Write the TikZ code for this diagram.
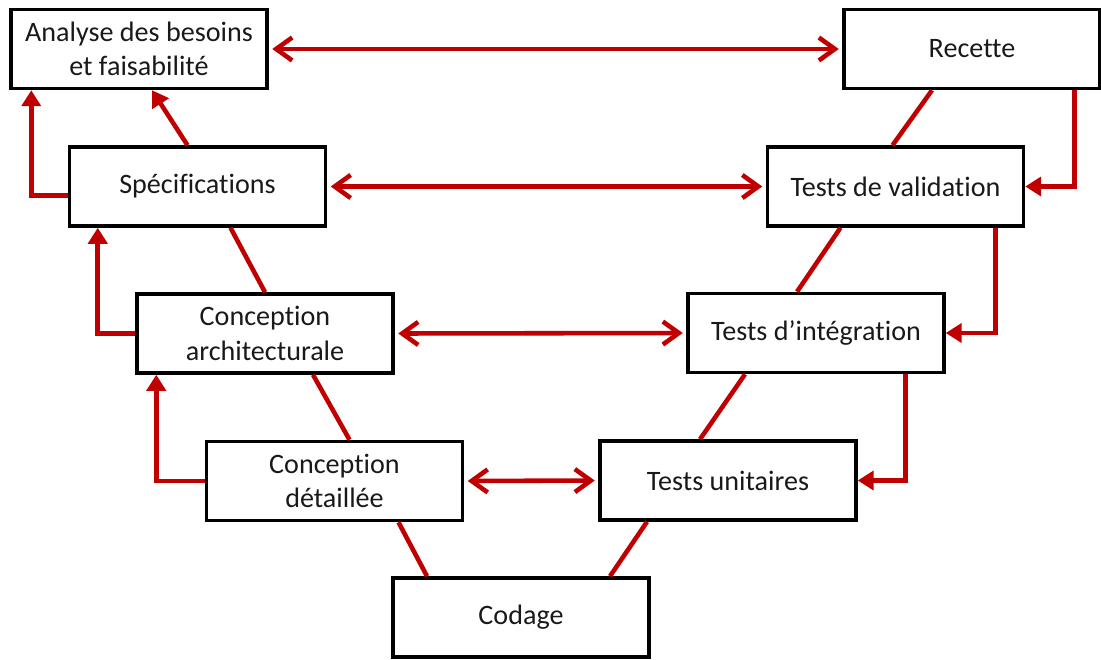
\documentclass[tikz,border=0pt]{standalone}
\usepackage{fontspec}
\setmainfont{Carlito}[Ligatures=NoCommon]
\usetikzlibrary{arrows.meta, calc}
\definecolor{vred}{RGB}{192,0,0}

\begin{document}
\begin{tikzpicture}[x=0.02cm, y=-0.02cm,
	phase/.style = {draw, line width=2pt, minimum width=5.12cm, minimum height=1.58cm, align=center, text=black!90, font=\fontsize{16}{19.5}\selectfont},
	link/.style = {vred, line width=2.6pt},
	retour/.style = {link, -{Triangle[length=3.2mm, width=3.8mm]}},
	echange/.style = {link, {Straight Barb[length=3.2mm, width=4.6mm]}-{Straight Barb[length=3.2mm, width=4.6mm]}, shorten <=2pt, shorten >=2pt}]
	\useasboundingbox (0,0) rectangle (1101,659);
	% descending branch
	\node[phase] (besoins) at (139,49) {Analyse des besoins\\et faisabilité};
	\node[phase] (specs) at (197.5,186.5) {Spécifications};
	\node[phase] (archi) at (265,333.5) {Conception\\architecturale};
	\node[phase] (detail) at (334.5,481) {Conception\\détaillée};
	\node[phase] (codage) at (521,617.5) {Codage};
	% ascending branch
	\node[phase] (unit) at (728,480.5) {Tests unitaires};
	\node[phase] (integ) at (816,333) {Tests d’intégration};
	\node[phase] (valid) at (895.5,186.5) {Tests de validation};
	\node[phase] (recette) at (972,49) {Recette};

	% the V
	\draw[retour] ($(specs.north)+(-10,0)$) -- ($(besoins.south)+(13,0)$);
	\draw[link] ($(specs.south)+(33,0)$) -- (archi.north);
	\draw[link] ($(archi.south)+(48,0)$) -- ($(detail.north)+(15,0)$);
	\draw[link] ($(detail.south)+(64,0)$) -- ($(codage.north)+(-94,0)$);
	\draw[link] ($(codage.north)+(89,0)$) -- ($(unit.south)+(-81,0)$);
	\draw[link] ($(unit.north)+(-28,0)$) -- ($(integ.south)+(-71,0)$);
	\draw[link] ($(integ.north)+(-19,0)$) -- ($(valid.south)+(-55,0)$);
	\draw[link] ($(valid.north)+(-3,0)$) -- ($(recette.south)+(-40,0)$);

	% correspondences
	\draw[echange] (besoins.east) -- (recette.west);
	\draw[echange] (specs.east) -- (valid.west);
	\draw[echange] (archi.east) -- (integ.west);
	\draw[echange] (detail.east) -- (unit.west);

	% feedback loops
	\draw[retour] ($(specs.west)+(0,9)$) -| ($(besoins.south west)+(22,0)$);
	\draw[retour] (archi.west) -| ($(specs.south west)+(30,0)$);
	\draw[retour] (detail.west) -| ($(archi.south west)+(21,0)$);
	\draw[retour] ($(recette.south east)+(-27,0)$) |- (valid.east);
	\draw[retour] ($(valid.south east)+(-30,0)$) |- (integ.east);
	\draw[retour] ($(integ.south east)+(-40,0)$) |- (unit.east);
\end{tikzpicture}
\end{document}
